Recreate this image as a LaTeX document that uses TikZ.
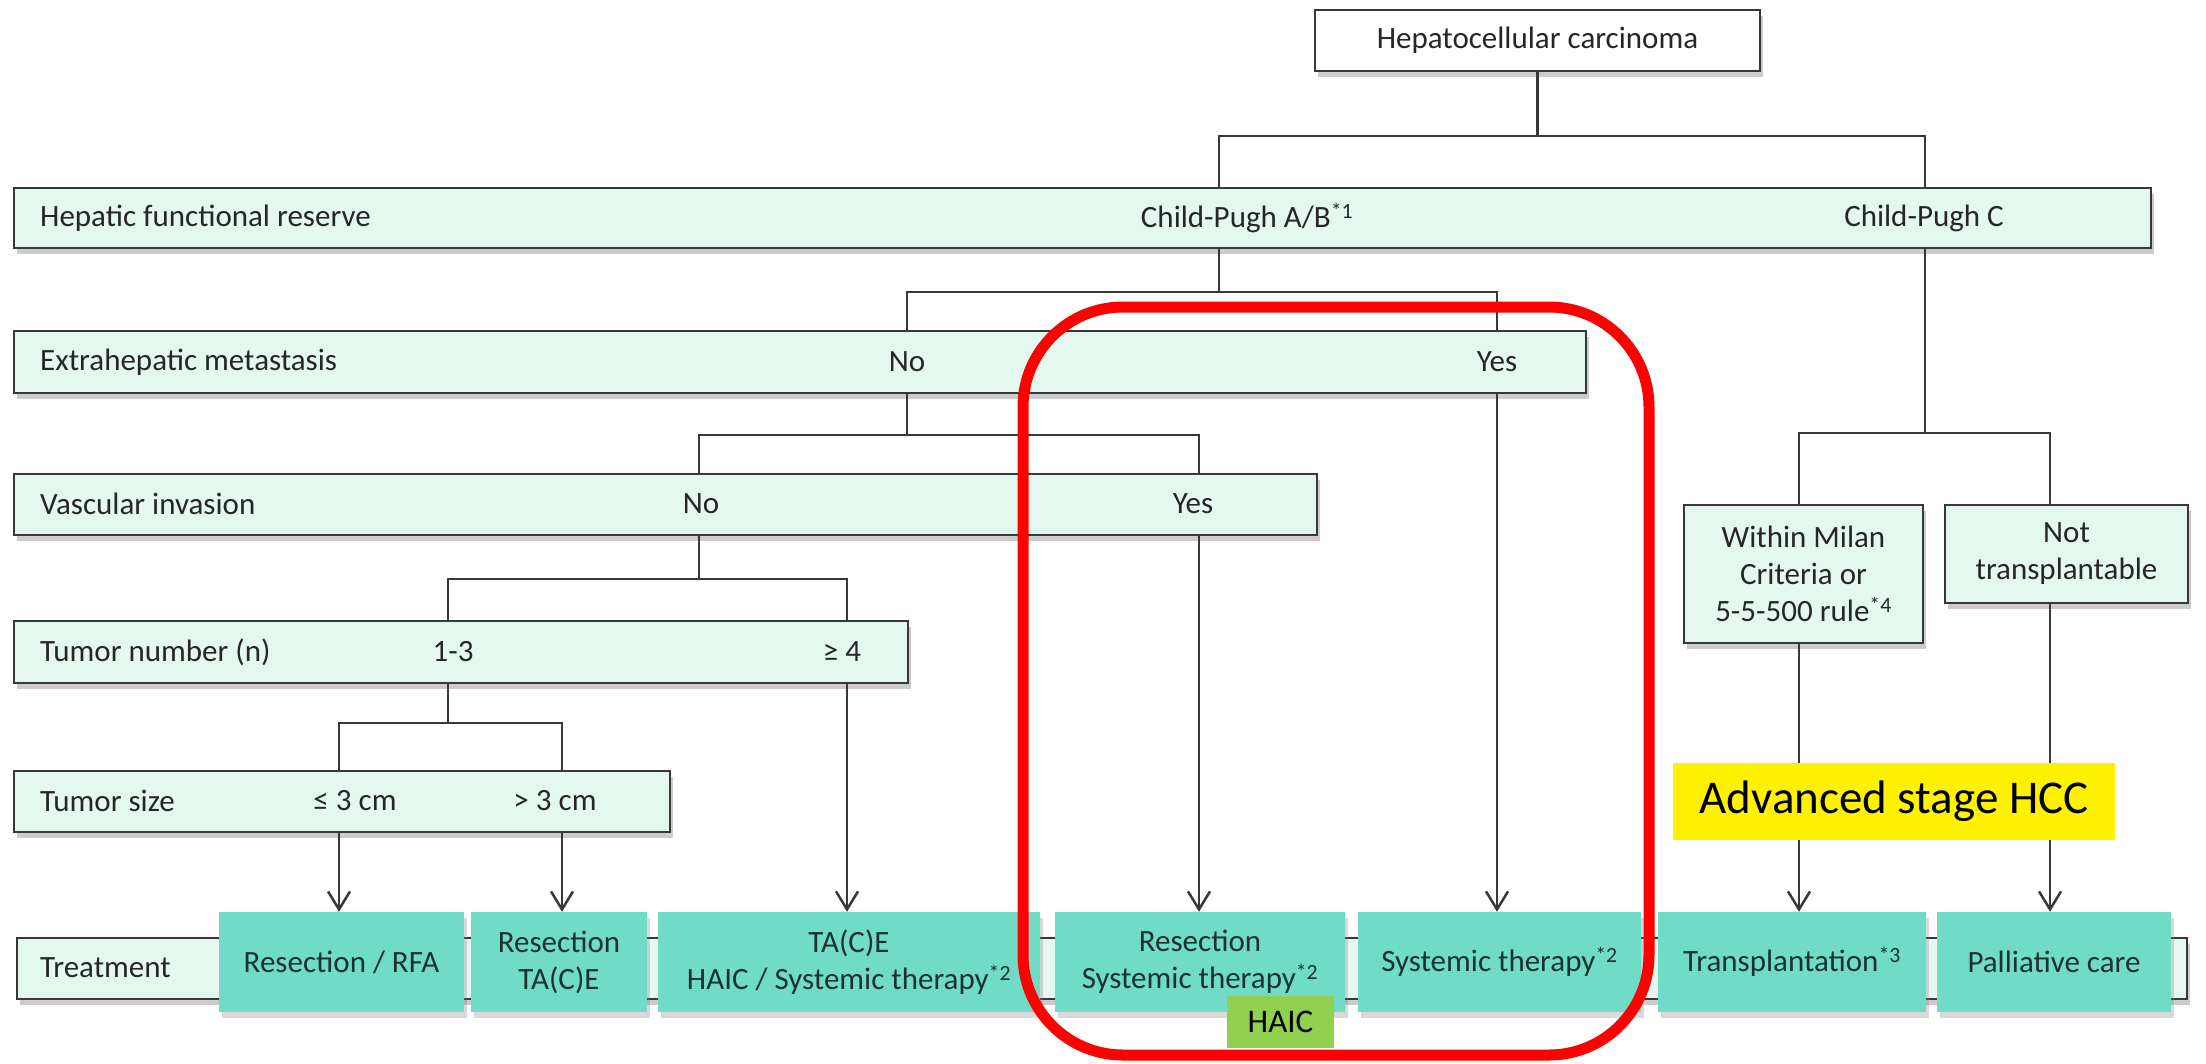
\documentclass[tikz,border=0pt]{standalone}
\usepackage{fontspec}
\setmainfont{Carlito}
\usetikzlibrary{shadows,arrows.meta}
\definecolor{barfill}{HTML}{E5F8F0}
\definecolor{tealbox}{HTML}{70DCC8}
\definecolor{edge}{HTML}{383838}
\definecolor{ink}{HTML}{262626}
\definecolor{tealink}{HTML}{1A3330}
\definecolor{haicgreen}{HTML}{92D050}
\begin{document}
\begin{tikzpicture}[x=1pt,y=-1pt,
  txt/.style={font=\fontsize{31}{37}\selectfont, text=ink, inner sep=0pt},
  bar/.style={draw=edge, line width=2.5pt, fill=barfill, inner sep=0pt,
    drop shadow={shadow xshift=3pt, shadow yshift=-6pt, opacity=0.4}},
  treat/.style={fill=tealbox, inner sep=0pt, minimum height=100pt,
    font=\fontsize{31}{37}\selectfont, text=tealink, align=center,
    drop shadow={shadow xshift=3pt, shadow yshift=-6pt, opacity=0.3}},
  conn/.style={draw=edge, line width=2.5pt},
  arr/.style={conn, -{Straight Barb[length=18pt,width=22pt]}},
]
\useasboundingbox (0,0) rectangle (2206,1063);

% root
\node[bar, fill=white, txt, minimum width=445pt, minimum height=61pt] (hcc) at (1537.5,40.5) {Hepatocellular carcinoma};

% criterion bars
\node[bar, minimum width=2137pt, minimum height=60pt] (hfr) at (1082.5,218) {};
\node[bar, minimum width=1572pt, minimum height=62pt] (em) at (800,362) {};
\node[bar, minimum width=1303pt, minimum height=61pt] (vi) at (665.5,504.5) {};
\node[bar, minimum width=894pt, minimum height=62pt] (tn) at (461,652) {};
\node[bar, minimum width=656pt, minimum height=61pt] (ts) at (342,801.5) {};
\node[bar, minimum width=2170pt, minimum height=61pt] (tr) at (1102,968.5) {};
\node[bar, txt, align=center, minimum width=239pt, minimum height=138pt] (milan) at (1803.5,574) {Within Milan\\Criteria or\\5-5-500 rule\textsuperscript{*4}};
\node[bar, txt, align=center, minimum width=243pt, minimum height=98pt] (nott) at (2066.5,554) {Not\\transplantable};

% bar labels
\node[txt, anchor=west] (lhfr) at (40,218) {Hepatic functional reserve};
\node[txt] (cpab) at (1247,218) {Child-Pugh A/B\textsuperscript{*1}};
\node[txt] (cpc) at (1924,218) {Child-Pugh C};
\node[txt, anchor=west] (lem) at (40,362) {Extrahepatic metastasis};
\node[txt] (emno) at (907,362) {No};
\node[txt] (emyes) at (1497,362) {Yes};
\node[txt, anchor=west] (lvi) at (40,504) {Vascular invasion};
\node[txt] (vino) at (701,504) {No};
\node[txt] (viyes) at (1193,504) {Yes};
\node[txt, anchor=west] (ltn) at (40,652) {Tumor number (n)};
\node[txt] (tn13) at (453,652) {1-3};
\node[txt] (tnge) at (842,652) {≥ 4};
\node[txt, anchor=west] (lts) at (40,801) {Tumor size};
\node[txt] (tsle) at (355,801) {≤ 3 cm};
\node[txt] (tsgt) at (555,801) {> 3 cm};
\node[txt, anchor=west] (ltr) at (40,968) {Treatment};

% branch points
\coordinate (j0) at (1537.5,136);
\coordinate (kAB) at (1219,0);
\coordinate (kC) at (1925,0);
\coordinate (j1) at (1219,292);
\coordinate (kNo1) at (907,0);
\coordinate (kYes1) at (1497,0);
\coordinate (j2) at (1925,433);
\coordinate (kMil) at (1799,0);
\coordinate (kNot) at (2050,0);
\coordinate (j3) at (907,435);
\coordinate (kNo2) at (699,0);
\coordinate (kYes2) at (1199,0);
\coordinate (j4) at (699,579);
\coordinate (k13) at (448,0);
\coordinate (kGe4) at (847,0);
\coordinate (j5) at (448,723);
\coordinate (kLe) at (339,0);
\coordinate (kGt) at (562,0);

% tree connectors
\draw[conn] (hcc.south) -- (j0);
\draw[conn] (hfr.north -| kAB) |- (j0) -| (hfr.north -| kC);
\draw[conn] (hfr.south -| j1) -- (j1);
\draw[conn] (em.north -| kNo1) |- (j1) -| (em.north -| kYes1);
\draw[conn] (hfr.south -| j2) -- (j2);
\draw[conn] (milan.north -| kMil) |- (j2) -| (nott.north -| kNot);
\draw[conn] (em.south -| j3) -- (j3);
\draw[conn] (vi.north -| kNo2) |- (j3) -| (vi.north -| kYes2);
\draw[conn] (vi.south -| j4) -- (j4);
\draw[conn] (tn.north -| k13) |- (j4) -| (tn.north -| kGe4);
\draw[conn] (tn.south -| j5) -- (j5);
\draw[conn] (ts.north -| kLe) |- (j5) -| (ts.north -| kGt);

% treatment boxes
\node[treat, minimum width=245pt] (t1) at (341.5,962) {Resection / RFA};
\node[treat, minimum width=176pt] (t2) at (559,962) {Resection\\TA(C)E};
\node[treat, minimum width=382pt] (t3) at (849,962) {TA(C)E\\HAIC / Systemic therapy\textsuperscript{*2}};
\node[treat, minimum width=290pt] (t4) at (1200,962) {Resection\\Systemic therapy\textsuperscript{*2}};
\node[treat, minimum width=283pt] (t5) at (1499.5,962) {Systemic therapy\textsuperscript{*2}};
\node[treat, minimum width=268pt] (t6) at (1792,962) {Transplantation\textsuperscript{*3}};
\node[treat, minimum width=234pt] (t7) at (2054,962) {Palliative care};

% arrows into treatments
\draw[arr] (ts.south -| kLe) -- (t1.north -| kLe);
\draw[arr] (ts.south -| kGt) -- (t2.north -| kGt);
\draw[arr] (tn.south -| kGe4) -- (t3.north -| kGe4);
\draw[arr] (vi.south -| kYes2) -- (t4.north -| kYes2);
\draw[arr] (em.south -| kYes1) -- (t5.north -| kYes1);
\draw[arr] (milan.south -| kMil) -- (t6.north -| kMil);
\draw[arr] (nott.south -| kNot) -- (t7.north -| kNot);

% annotations
\node[fill=yellow, inner sep=0pt, minimum width=442pt, minimum height=77pt,
  font=\fontsize{47}{56}\selectfont] (adv) at (1894,801.5) {Advanced stage HCC};
\node[draw=red, line width=11pt, rounded corners=100pt, inner sep=0pt,
  minimum width=626pt, minimum height=748pt] (focus) at (1336,681) {};
\node[fill=haicgreen, inner sep=0pt, minimum width=107pt, minimum height=52pt,
  font=\fontsize{33}{40}\selectfont] (haic) at (1280.5,1022) {HAIC};
\end{tikzpicture}
\end{document}
